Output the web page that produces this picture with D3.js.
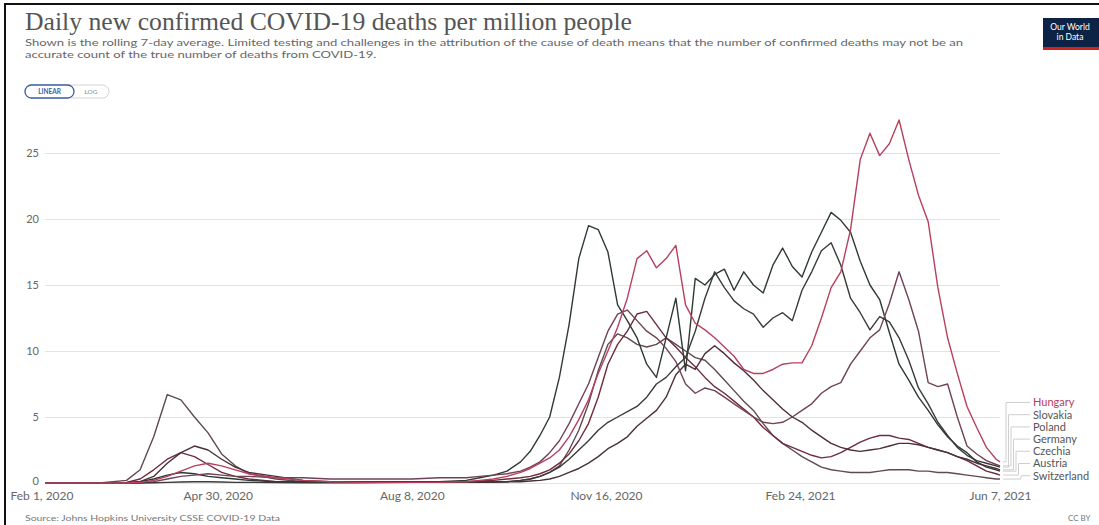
<!DOCTYPE html>
<html><head><meta charset="utf-8">
<script src="https://cdn.jsdelivr.net/npm/d3@7"></script>
<style>
body{margin:0;background:#fff;}
svg text{font-family:Lato,"Noto Sans",sans-serif;}
</style></head><body>
<svg id="c" width="1099" height="525"></svg>
<script>
const dates = ["2020-02-01","2020-02-15","2020-02-29","2020-03-14","2020-03-21","2020-03-28","2020-04-04","2020-04-11","2020-04-18","2020-04-25",
"2020-05-02","2020-05-09","2020-05-16","2020-05-30","2020-06-13","2020-06-27","2020-07-11","2020-07-25","2020-08-08","2020-08-22",
"2020-09-05","2020-09-12","2020-09-19","2020-09-26",
"2020-10-03","2020-10-08","2020-10-13","2020-10-18","2020-10-23","2020-10-28","2020-11-02","2020-11-07","2020-11-12","2020-11-17",
"2020-11-22","2020-11-27","2020-12-02","2020-12-07","2020-12-12","2020-12-17","2020-12-22","2020-12-27","2021-01-01","2021-01-06",
"2021-01-11","2021-01-16","2021-01-21","2021-01-26","2021-01-31","2021-02-05","2021-02-10","2021-02-15","2021-02-20","2021-02-25",
"2021-03-02","2021-03-07","2021-03-12","2021-03-17","2021-03-22","2021-03-27","2021-04-01","2021-04-06","2021-04-11","2021-04-16",
"2021-04-21","2021-04-26","2021-05-01","2021-05-06","2021-05-11","2021-05-16","2021-05-21","2021-05-26","2021-05-31","2021-06-05",
"2021-06-07"];

const hungary = [0,0,0,0,0.05,0.2,0.5,0.9,1.3,1.5,1.3,1.0,0.7,0.4,0.2,0.1,0.05,0.05,0.05,0.05,0.1,0.2,0.3,0.5,
0.8,1.1,1.5,1.9,2.5,3.5,4.8,6.3,8.3,10.0,
11.8,14.0,17.0,17.6,16.3,17.0,18.0,13.5,12.1,11.6,
11.0,10.3,9.6,8.6,8.3,8.3,8.6,9.0,9.1,9.1,
10.4,12.5,14.8,16.0,19.2,24.5,26.5,24.8,25.7,27.5,
24.5,21.8,19.8,14.8,11.0,8.3,5.8,4.2,2.7,1.8,
1.6];
const slovakia = [0,0,0,0,0,0.02,0.05,0.08,0.1,0.1,0.08,0.05,0.05,0.03,0.02,0.02,0.02,0.03,0.05,0.05,0.05,0.08,0.1,0.1,
0.2,0.3,0.5,0.8,1.2,1.8,2.5,3.2,4.0,4.6,
5.0,5.4,5.8,6.5,7.5,8.0,8.8,9.5,11.5,14.0,
16.0,14.8,13.8,13.2,12.8,11.8,12.5,12.9,12.3,14.6,
16.0,17.6,18.2,16.5,14.0,12.9,11.6,12.6,12.2,11.0,
9.3,7.2,6.0,4.6,3.6,2.7,2.1,1.7,1.5,1.3,
1.2];
const poland = [0,0,0,0,0.02,0.1,0.3,0.5,0.6,0.7,0.6,0.5,0.5,0.4,0.4,0.3,0.3,0.3,0.3,0.4,0.4,0.5,0.6,0.7,
0.9,1.2,1.6,2.3,3.2,4.5,6.0,7.5,9.5,11.5,
12.8,13.1,12.3,11.5,11.0,10.2,9.2,7.5,6.8,7.2,
7.0,6.5,6.0,5.5,5.0,4.6,4.5,4.6,5.0,5.5,
6.0,6.8,7.3,7.6,9.0,10.0,11.0,11.6,13.6,16.0,
13.9,11.5,7.6,7.3,7.5,5.0,2.8,2.2,1.7,1.4,
1.3];
const germany = [0,0,0,0.02,0.1,0.5,1.5,2.3,2.8,2.5,1.8,1.2,0.8,0.5,0.2,0.1,0.05,0.05,0.05,0.05,0.05,0.05,0.05,0.1,
0.1,0.15,0.2,0.3,0.5,0.8,1.1,1.5,2.0,2.6,
3.0,3.5,4.3,4.9,5.5,6.5,8.2,9.0,8.6,9.8,
10.4,9.8,9.1,8.5,7.8,7.0,6.3,5.6,5.0,4.6,
4.0,3.5,3.0,2.7,2.5,2.4,2.5,2.6,2.8,3.0,
3.0,2.9,2.7,2.5,2.3,2.0,1.8,1.5,1.3,1.1,
1.0];
const czechia = [0,0,0,0.02,0.1,0.3,0.6,0.8,0.7,0.5,0.4,0.3,0.2,0.1,0.1,0.1,0.1,0.1,0.1,0.1,0.2,0.4,0.6,0.9,
1.6,2.4,3.6,5.0,8.0,12.0,17.0,19.5,19.2,17.5,
13.5,12.3,11.0,9.0,8.0,11.0,14.0,8.5,15.5,15.0,
15.8,16.2,14.6,16.0,15.0,14.4,16.5,17.8,16.4,15.6,
17.5,19.0,20.5,19.9,19.0,16.8,15.0,13.9,11.4,9.0,
7.8,6.5,5.5,4.4,3.5,2.8,2.3,1.6,1.2,1.0,
0.9];
const austria = [0,0,0,0.05,0.3,1.0,1.8,2.3,2.0,1.4,0.8,0.5,0.3,0.1,0.05,0.05,0.05,0.05,0.05,0.05,0.1,0.15,0.2,0.3,
0.4,0.5,0.7,1.0,1.5,2.2,3.2,4.5,6.5,9.0,
10.5,11.5,12.8,13.0,12.0,11.0,10.3,9.5,8.8,8.0,
7.3,6.8,6.2,5.6,5.0,4.2,3.6,3.0,2.7,2.4,
2.1,1.9,2.0,2.3,2.7,3.1,3.4,3.6,3.6,3.4,
3.3,3.0,2.7,2.5,2.3,2.0,1.7,1.3,0.9,0.7,
0.6];
const switzerland = [0,0,0,0.2,1.0,3.5,6.7,6.3,5.0,3.8,2.2,1.3,0.7,0.3,0.1,0.05,0.05,0.05,0.05,0.05,0.05,0.1,0.1,0.1,
0.2,0.3,0.5,0.8,1.3,2.5,4.0,6.0,8.5,10.5,
11.3,11.0,10.5,10.3,10.5,11.0,10.5,10.0,9.5,9.3,
8.6,7.8,7.0,6.2,5.5,4.5,3.6,3.0,2.5,2.0,
1.6,1.2,1.0,0.9,0.8,0.8,0.8,0.9,1.0,1.0,
1.0,0.9,0.9,0.8,0.8,0.7,0.6,0.5,0.4,0.3,
0.3];

const countries = ["Hungary","Slovakia","Poland","Germany","Czechia","Austria","Switzerland"];
const seriesValues = [hungary, slovakia, poland, germany, czechia, austria, switzerland];
const colors = ["#b8405e","#3a3a3a","#6e4258","#4a3038","#2e3a33","#6e2c3c","#5e4a50"];
const yTicks = [0,5,10,15,20,25];
const xTickDates = ["2020-02-01","2020-04-30","2020-08-08","2020-11-16","2021-02-24","2021-06-07"];
const xTickLabels = ["Feb 1, 2020","Apr 30, 2020","Aug 8, 2020","Nov 16, 2020","Feb 24, 2021","Jun 7, 2021"];

const parse = d3.utcParse("%Y-%m-%d");
const svg = d3.select("#c");

// borders (cropped screenshot edges)
svg.append("rect").attr("x",4).attr("y",3).attr("width",1095).attr("height",2).attr("fill","#111");
svg.append("rect").attr("x",4).attr("y",3).attr("width",2).attr("height",522).attr("fill","#111");

// title
svg.append("text").attr("x",25).attr("y",30)
  .style("font-family","'Liberation Serif','DejaVu Serif',serif").style("font-size","25px").attr("fill","#555")
  .attr("textLength",607).attr("lengthAdjust","spacingAndGlyphs")
  .text("Daily new confirmed COVID-19 deaths per million people");

// subtitle
const s1 = svg.append("text").attr("x",25).attr("y",46).style("font-size","10px").attr("fill","#666")
  .text("Shown is the rolling 7-day average. Limited testing and challenges in the attribution of the cause of death means that the number of confirmed deaths may not be an");
const s2 = svg.append("text").attr("x",25).attr("y",58).style("font-size","10px").attr("fill","#666")
  .text("accurate count of the true number of deaths from COVID-19.");
const ratio = 938 / s1.node().getComputedTextLength();
s1.attr("textLength",938).attr("lengthAdjust","spacingAndGlyphs");
s2.attr("textLength", s2.node().getComputedTextLength()*ratio).attr("lengthAdjust","spacingAndGlyphs");

// linear/log toggle
svg.append("rect").attr("x",25).attr("y",85).attr("width",84).attr("height",13).attr("rx",6.5)
  .attr("fill","#fff").attr("stroke","#d4d4d4");
svg.append("rect").attr("x",25).attr("y",85).attr("width",49).attr("height",13).attr("rx",6.5)
  .attr("fill","#fff").attr("stroke","#3d5ea6").attr("stroke-width",1.3);
svg.append("text").attr("x",49.5).attr("y",94).attr("text-anchor","middle").style("font-size","6.5px")
  .style("font-weight","bold").attr("fill","#3d5ea6").text("LINEAR");
svg.append("text").attr("x",91).attr("y",94).attr("text-anchor","middle").style("font-size","6.5px")
  .attr("fill","#888").text("LOG");

// logo
svg.append("rect").attr("x",1043).attr("y",18).attr("width",56).attr("height",31).attr("fill","#0c2345");
svg.append("rect").attr("x",1043).attr("y",47).attr("width",56).attr("height",3).attr("fill","#d0221c");
svg.append("text").attr("x",1070).attr("y",30).attr("text-anchor","middle").style("font-size","8.5px").attr("fill","#fff").text("Our World");
svg.append("text").attr("x",1070).attr("y",40).attr("text-anchor","middle").style("font-size","8.5px").attr("fill","#fff").text("in Data");

// scales
const x = d3.scaleUtc().domain([parse(dates[0]), parse(dates[dates.length-1])]).range([45,1000]);
const y = d3.scaleLinear().domain([0,25]).range([483,153]);

// y grid + labels
const gy = svg.append("g").attr("transform","translate(45,0)")
  .call(d3.axisLeft(y).tickValues(yTicks).tickSize(-955).tickPadding(6).tickFormat(d3.format("d")));
gy.select(".domain").remove();
gy.selectAll(".tick line").attr("stroke","#e2e2e2");
gy.selectAll(".tick text").attr("fill","#666").style("font-size","11px").style("font-family","Lato,sans-serif");
gy.selectAll(".tick").filter(d=>d===0).select("text").attr("dy","0.1em");

// x labels
const gx = svg.append("g").attr("transform","translate(0,483)")
  .call(d3.axisBottom(x).tickValues(xTickDates.map(parse)).tickSize(0).tickPadding(8)
    .tickFormat((d,i)=>xTickLabels[i]));
gx.select(".domain").remove();
gx.selectAll(".tick text").attr("fill","#666").style("font-size","12px").style("font-family","Lato,sans-serif");
gx.selectAll(".tick").filter((d,i)=>i===0).select("text").attr("text-anchor","start").attr("x",-35);

// lines
const line = d3.line().x((d,i)=>x(parse(dates[i]))).y(d=>y(d));
const order = [6,5,4,3,2,1,0];
order.forEach(k=>{
  svg.append("path").datum(seriesValues[k]).attr("d",line).attr("fill","none")
    .attr("stroke",colors[k]).attr("stroke-width",1.4).attr("stroke-linejoin","round");
});

// legend
const labelY = [402.5,414.7,426.9,439.1,451.3,463.5,475.7];
countries.forEach((c,i)=>{
  const v = seriesValues[i][seriesValues[i].length-1];
  const mid = 1006 + i*2.5;
  svg.append("path").attr("d",`M${x(parse(dates[dates.length-1]))+3},${y(v)}H${mid}V${labelY[i]}H1030`)
    .attr("fill","none").attr("stroke","#cfcfcf").attr("stroke-width",1);
  svg.append("text").attr("x",1033).attr("y",labelY[i]).attr("dy","0.35em").style("font-size","11px")
    .attr("fill", i===0 ? colors[0] : "#555").text(c);
});

// footer
svg.append("text").attr("x",25).attr("y",521).style("font-size","8px").attr("fill","#777")
  .attr("textLength",255).attr("lengthAdjust","spacingAndGlyphs")
  .text("Source: Johns Hopkins University CSSE COVID-19 Data");
svg.append("text").attr("x",1068).attr("y",521).style("font-size","8px").attr("fill","#777").text("CC BY");
</script>
</body></html>
